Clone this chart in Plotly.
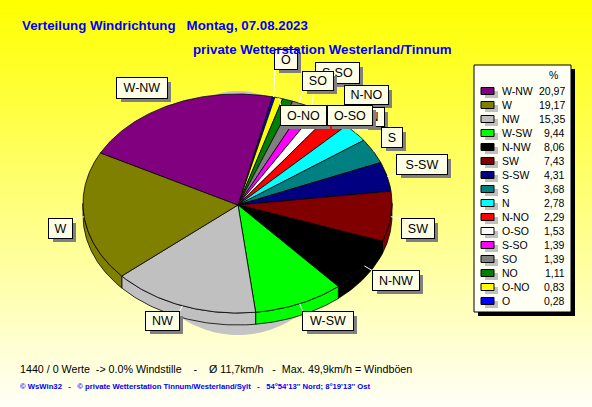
import math
import numpy as np
import plotly.graph_objects as go

# ---- data ----
legend_names = ["W-NW", "W", "NW", "W-SW", "N-NW", "SW", "S-SW", "S", "N", "N-NO", "O-SO", "S-SO", "SO", "NO", "O-NO", "O"]
legend_values = [20.97, 19.17, 15.35, 9.44, 8.06, 7.43, 4.31, 3.68, 2.78, 2.29, 1.53, 1.39, 1.39, 1.11, 0.83, 0.28]
legend_text = ["20,97", "19,17", "15,35", "9,44", "8,06", "7,43", "4,31", "3,68", "2,78", "2,29", "1,53", "1,39", "1,39", "1,11", "0,83", "0,28"]
colors = {"W-NW": "#800080", "W": "#808000", "NW": "#C0C0C0", "W-SW": "#00FF00", "N-NW": "#000000", "SW": "#800000",
          "S-SW": "#000080", "S": "#008080", "N": "#00FFFF", "N-NO": "#FF0000", "O-SO": "#FFFFFF", "S-SO": "#FF00FF",
          "SO": "#808080", "NO": "#008000", "O-NO": "#FFFF00", "O": "#0000FF"}
pie_order = ["O", "O-NO", "NO", "SO", "S-SO", "O-SO", "N-NO", "N", "S", "S-SW", "SW", "N-NW", "W-SW", "NW", "W", "W-NW"]

title_1 = "Verteilung Windrichtung\u00a0\u00a0\u00a0Montag, 07.08.2023"
title_2 = "private Wetterstation Westerland/Tinnum"
foot_1 = "1440 / 0 Werte\u00a0\u00a0-> 0.0% Windstille\u00a0\u00a0\u00a0\u00a0-\u00a0\u00a0\u00a0\u00a0Ø 11,7km/h\u00a0\u00a0\u00a0-\u00a0\u00a0Max. 49,9km/h = Windböen"
foot_2 = "© WsWin32\u00a0\u00a0\u00a0-\u00a0\u00a0\u00a0© private Wetterstation Tinnum/Westerland/Sylt\u00a0\u00a0\u00a0-\u00a0\u00a0\u00a054°54'13'' Nord; 8°19'13'' Ost"

# ---- layout constants (pixels of the page) ----
W, H = 592, 407
CX, CY, RX, RY, DEPTH = 237.5, 203.5, 154.5, 109.5, 12
APEX = (238, 205)
START = 13
FONT = "Liberation Sans"
# label boxes: name -> x0, x1, y0, y1, in paint order
boxes = [("O", 275, 297, 50, 69), ("S-SO", 316, 359, 63, 83), ("SO", 303, 333, 72, 90), ("N-NO", 345, 388, 86, 104),
         ("N", 364, 384, 108, 126), ("O-NO", 281, 326, 106, 125), ("O-SO", 328, 372, 106, 125), ("S", 382, 402, 128, 147),
         ("S-SW", 397, 447, 155, 174), ("SW", 402, 434, 219, 238), ("N-NW", 373, 419, 271, 290), ("W-SW", 303, 353, 312, 330),
         ("NW", 146, 179, 312, 330), ("W", 49, 72, 219, 238), ("W-NW", 117, 167, 78, 98)]

def pt(t, dy=0):
    r = math.radians(t)
    return CX + RX * math.sin(r), CY - RY * math.cos(r) + dy

fig = go.Figure()

# background gradient
ys = np.arange(0, H + 1, 2)
fig.add_trace(go.Heatmap(x=[0, W], y=ys, z=[[float(v), float(v)] for v in ys], zmin=0, zmax=H,
                         colorscale=[[0, "#FFFF00"], [1, "#FFFFF8"]], showscale=False, hoverinfo="skip", zsmooth="best"))

# pie shadow: small sliver behind the top, larger one under the front
for srx, sry, a0, a1 in ((90, 112.5, -90, 90), (115, 131.5, 90, 270)):
    ang_s = [math.radians(a) for a in range(a0, a1 + 1, 2)]
    fig.add_trace(go.Scatter(x=[238 + srx * math.sin(a) for a in ang_s], y=[CY - sry * math.cos(a) for a in ang_s],
                             fill="toself", fillcolor="#C4C4C4", mode="none", hoverinfo="skip"))

# slices
vals = dict(zip(legend_names, legend_values))
total = sum(legend_values)
ang = START
spans = {}
for name in pie_order:
    a1 = ang + vals[name] / total * 360
    spans[name] = (ang, a1)
    ang = a1

# rim
for name in pie_order:
    a0, a1 = spans[name]
    lo, hi = max(a0, 90), min(a1, 270)
    if hi <= lo:
        continue
    ts = np.linspace(lo, hi, 60)
    top = [pt(t) for t in ts]
    bot = [pt(t, DEPTH) for t in ts[::-1]]
    poly = top + bot + top[:1]
    fig.add_trace(go.Scatter(x=[p[0] for p in poly], y=[p[1] for p in poly], fill="toself", fillcolor=colors[name],
                             mode="lines", line=dict(color="#000000", width=0.8), hoverinfo="skip"))
# top
for name in pie_order:
    a0, a1 = spans[name]
    arc = [pt(t) for t in np.linspace(a0, a1, max(4, int((a1 - a0) * 1.5)))]
    poly = [APEX] + arc + [APEX]
    fig.add_trace(go.Scatter(x=[p[0] for p in poly], y=[p[1] for p in poly], fill="toself", fillcolor=colors[name],
                             mode="lines", line=dict(color="#000000", width=0.8), hoverinfo="skip"))

# leader lines: slice mid-point on the rim of the top surface to the nearest box corner
for name, x0, x1, y0, y1 in boxes:
    a0, a1 = spans[name]
    e = pt((a0 + a1) / 2)
    corners = [(x0, y0), (x1, y0), (x0, y1), (x1, y1)]
    c = min(corners, key=lambda p: (p[0] - e[0]) ** 2 + (p[1] - e[1]) ** 2)
    fig.add_trace(go.Scatter(x=[e[0], c[0]], y=[e[1], c[1]], mode="lines",
                             line=dict(color="#FFFFFF", width=1), hoverinfo="skip"))

shapes = []
ann = []

def box(x0, x1, y0, y1, fill, text=" ", line=None, size=12.5):
    ann.append(dict(x=(x0 + x1) / 2, y=(y0 + y1) / 2, xref="x", yref="y", text=text, showarrow=False,
                    width=x1 - x0, height=y1 - y0, xanchor="center", yanchor="middle", align="center", valign="middle",
                    bgcolor=fill, borderpad=0, borderwidth=1 if line else 0, bordercolor=line or fill,
                    font=dict(family=FONT, size=size, color="#000000")))

for name, x0, x1, y0, y1 in boxes:
    box(x0 + 4, x1 + 4, y0 + 4, y1 + 4, "#808080")
    box(x0, x1, y0, y1, "#FFFFE6", name, "#000000")

# legend
shapes.append(dict(type="rect", x0=478, x1=575, y0=69, y1=316, fillcolor="#000000", line_width=0, xref="x", yref="y"))
shapes.append(dict(type="rect", x0=474, x1=571, y0=65, y1=312, fillcolor="#FFFFF4", line=dict(color="#000000", width=1), xref="x", yref="y"))

def text(x, y, s, size=10.5, color="#000000", anchor="left", bold=False):
    ann.append(dict(x=x, y=y, xref="x", yref="y", text=f"<b>{s}</b>" if bold else s, showarrow=False, xanchor=anchor,
                    yanchor="middle", font=dict(family=FONT, size=size, color=color)))

text(553, 75, "%", anchor="center")
for i, (n, v) in enumerate(zip(legend_names, legend_text)):
    yy = 91 + 14 * i
    shapes.append(dict(type="rect", x0=485, x1=498, y0=yy, y1=yy + 7, fillcolor="#C0C0C0", line_width=0, xref="x", yref="y"))
    shapes.append(dict(type="rect", x0=481, x1=494, y0=yy - 3.5, y1=yy + 3.5, fillcolor=colors[n],
                       line=dict(color="#000000", width=1), xref="x", yref="y"))
    text(500, yy, n)
    text(567, yy, v, anchor="right")

text(20, 25.5, title_1, size=13.3, color="#0000FF", bold=True)
text(191, 49, title_2, size=13.3, color="#0000FF", bold=True)
text(18, 369, foot_1, size=10.7)
text(18, 386, foot_2, size=7.7, color="#0000FF", bold=True)

fig.update_layout(width=W, height=H, margin=dict(l=0, r=0, t=0, b=0), showlegend=False, shapes=shapes, annotations=ann,
                  paper_bgcolor="#FFFFFF", plot_bgcolor="#FFFFFF", hovermode=False,
                  xaxis=dict(range=[0, W], visible=False, fixedrange=True),
                  yaxis=dict(range=[H, 0], visible=False, fixedrange=True))
fig.write_html("out.html", config=dict(displayModeBar=False),
               post_script="document.body.style.margin='0';document.body.style.overflow='hidden';")
